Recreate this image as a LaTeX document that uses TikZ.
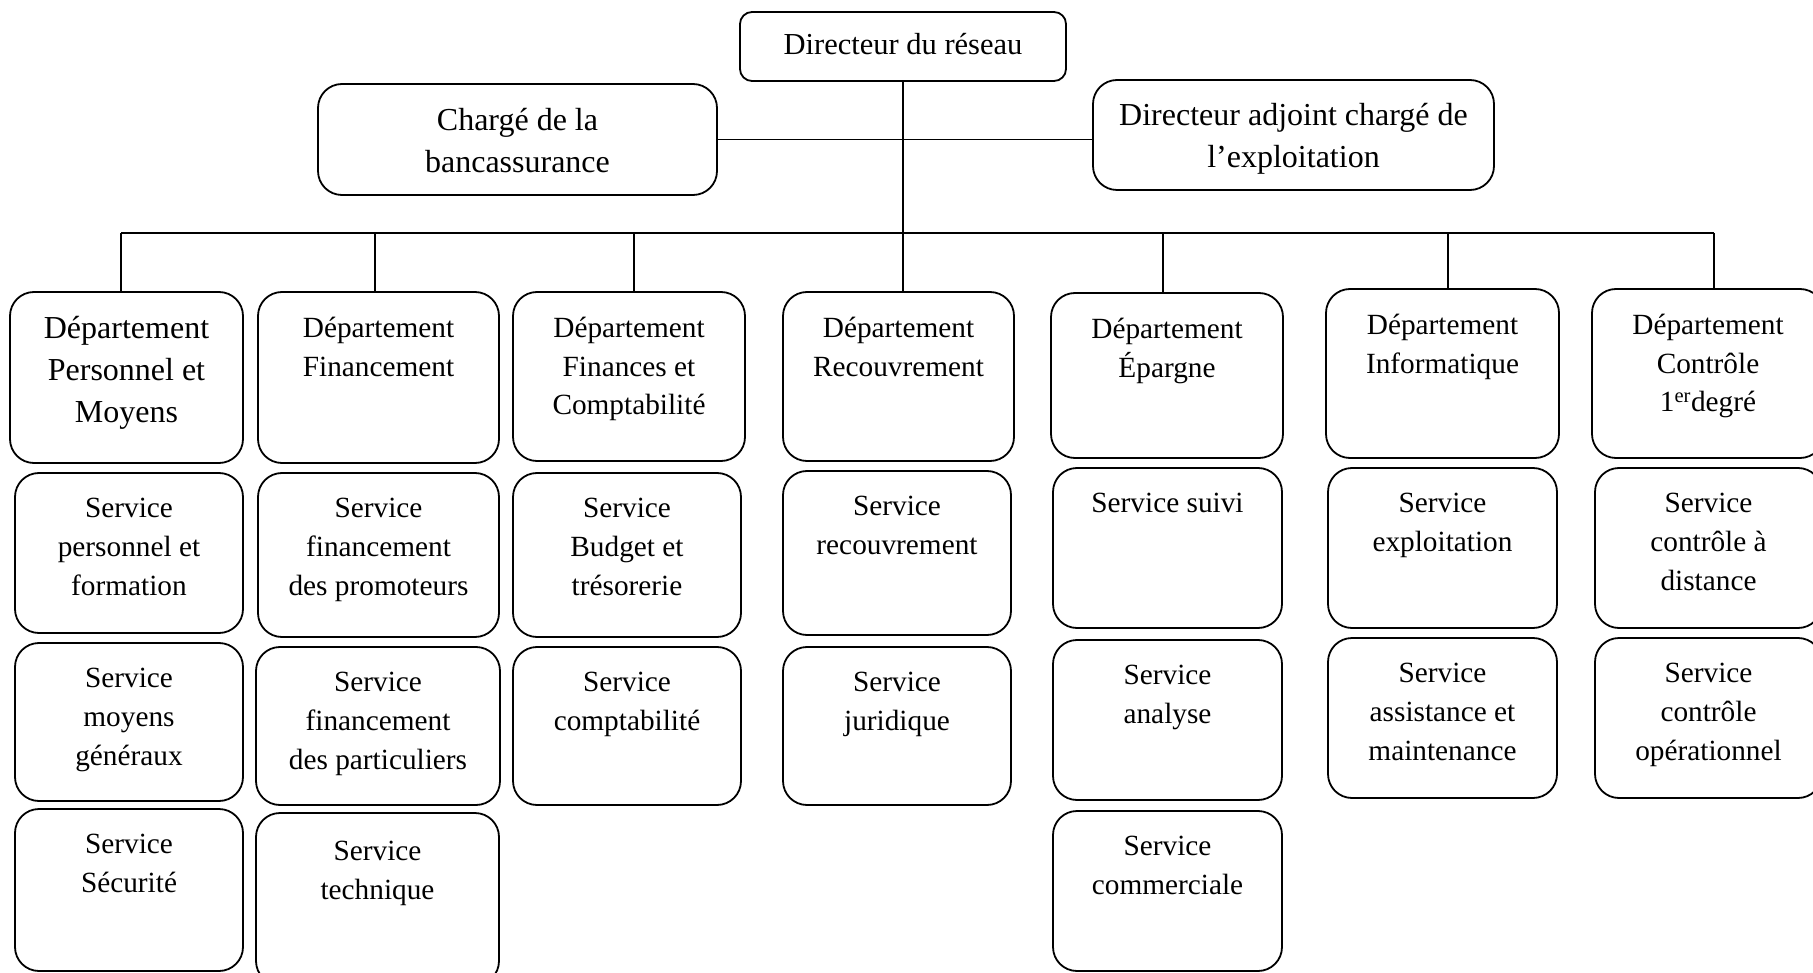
\documentclass[tikz,border=0pt]{standalone}
\usepackage{fontspec}
\setmainfont{Liberation Serif}
\tikzset{
  obox/.style={draw, line width=1.8pt, rounded corners=24pt, inner sep=0pt, outer sep=0pt},
  lbl/.style={anchor=north, inner sep=0pt, align=center, font=\fontsize{29.3}{38.7}\selectfont},
  big/.style={font=\fontsize{32}{42}\selectfont},
  conn/.style={line width=1.6pt},
  bus/.style={line width=2.4pt},
}
\newcommand\orgbox[7][]{%
  \node[obox, minimum width={#5-#3}, minimum height={#6-#4},
    label={[lbl,yshift=-25pt,#1]north:{#7}}] (#2) at ({(#3+#5)/2},{(#4+#6)/2}) {};}
\begin{document}
\begin{tikzpicture}[x=1pt,y=-1pt]
\useasboundingbox (0,0) rectangle (1813,973);
% top level
\node[obox, rounded corners=12pt, minimum width=326, minimum height=69,
  label={[lbl,yshift=-21pt,font=\fontsize{30.5}{40}\selectfont]north:Directeur du réseau}] (dir) at (903,46.5) {};
\orgbox[big,yshift=1pt]{charge}{318}{84}{717}{195}{Chargé de la\\bancassurance}
\orgbox[big,yshift=2pt]{adj}{1093}{80}{1494}{190}{Directeur adjoint chargé de\\l’exploitation}
% departments
\orgbox[big,yshift=1pt]{d1}{10}{292}{243}{463}{Département\\Personnel et\\Moyens}
\orgbox{d2}{258}{292}{499}{463}{Département\\Financement}
\orgbox{d3}{513}{292}{745}{461}{Département\\Finances et\\Comptabilité}
\orgbox{d4}{783}{292}{1014}{461}{Département\\Recouvrement}
\orgbox{d5}{1051}{293}{1283}{458}{Département\\Épargne}
\orgbox{d6}{1326}{289}{1559}{458}{Département\\Informatique}
\orgbox{d7}{1592}{289}{1824}{458}{Département\\Contrôle\\1\textsuperscript{er}degré}
% services row 1
\orgbox{s11}{15}{473}{243}{633}{Service\\personnel et\\formation}
\orgbox{s21}{258}{473}{499}{637}{Service\\financement\\des promoteurs}
\orgbox{s31}{513}{473}{741}{637}{Service\\Budget et\\trésorerie}
\orgbox{s41}{783}{471}{1011}{635}{Service\\recouvrement}
\orgbox{s51}{1053}{468}{1282}{628}{Service suivi}
\orgbox{s61}{1328}{468}{1557}{628}{Service\\exploitation}
\orgbox{s71}{1595}{468}{1822}{628}{Service\\contrôle à\\distance}
% services row 2
\orgbox{s12}{15}{643}{243}{801}{Service\\moyens\\généraux}
\orgbox{s22}{256}{647}{500}{805}{Service\\financement\\des particuliers}
\orgbox{s32}{513}{647}{741}{805}{Service\\comptabilité}
\orgbox{s42}{783}{647}{1011}{805}{Service\\juridique}
\orgbox{s52}{1053}{640}{1282}{800}{Service\\analyse}
\orgbox{s62}{1328}{638}{1557}{798}{Service\\assistance et\\maintenance}
\orgbox{s72}{1595}{638}{1822}{798}{Service\\contrôle\\opérationnel}
% services row 3
\orgbox{s13}{15}{809}{243}{971}{Service\\Sécurité}
\orgbox[yshift=-3pt]{s23}{256}{813}{499}{985}{Service\\technique}
\orgbox{s53}{1053}{811}{1282}{971}{Service\\commerciale}
% connectors
\draw[conn] (charge.east) -- (charge.east -| adj.west);
\draw[conn] (dir.south) -- (dir.south |- d4.north);
\coordinate (b1) at (121,233);
\coordinate (b2) at (375,233);
\coordinate (b3) at (634,233);
\coordinate (b5) at (1163,233);
\coordinate (b6) at (1448,233);
\coordinate (b7) at (1714,233);
\draw[bus] (b1) -- (b7);
\draw[conn] (b1) -- (b1 |- d1.north);
\draw[conn] (b2) -- (b2 |- d2.north);
\draw[conn] (b3) -- (b3 |- d3.north);
\draw[conn] (b5) -- (b5 |- d5.north);
\draw[conn] (b6) -- (b6 |- d6.north);
\draw[conn] (b7) -- (b7 |- d7.north);
\end{tikzpicture}
\end{document}
